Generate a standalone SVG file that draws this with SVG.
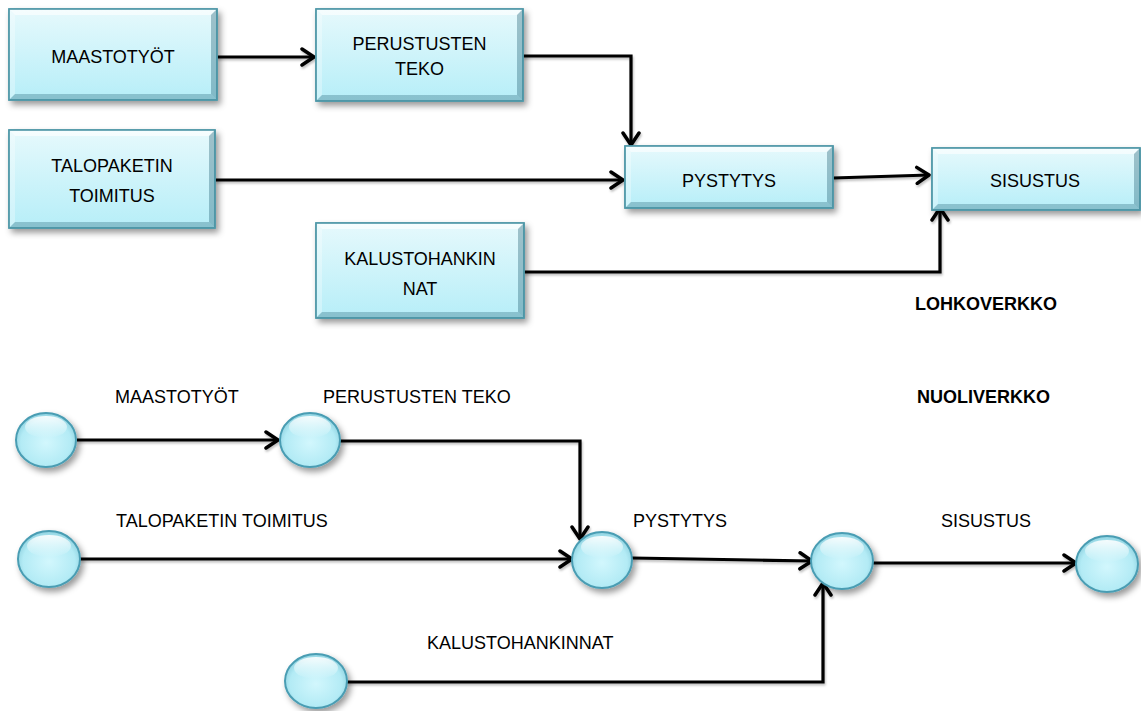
<svg xmlns="http://www.w3.org/2000/svg" width="1141" height="711" viewBox="0 0 1141 711">
<defs>
<linearGradient id="face" x1="0" y1="0" x2="0" y2="1">
<stop offset="0" stop-color="#e6f9fc"/>
<stop offset="1" stop-color="#b6eef8"/>
</linearGradient>
<radialGradient id="ball" cx="0.5" cy="0.55" r="0.6">
<stop offset="0" stop-color="#d2f7fd"/>
<stop offset="0.7" stop-color="#b3ebf5"/>
<stop offset="1" stop-color="#7ec6d6"/>
</radialGradient>
<linearGradient id="gloss" x1="0" y1="0" x2="0" y2="1">
<stop offset="0" stop-color="#ffffff" stop-opacity="0.9"/>
<stop offset="1" stop-color="#ffffff" stop-opacity="0"/>
</linearGradient>
<filter id="sh" x="-20%" y="-20%" width="140%" height="150%">
<feDropShadow dx="3" dy="4" stdDeviation="3" flood-color="#000" flood-opacity="0.4"/>
</filter>
<filter id="lsh" x="-5%" y="-50%" width="110%" height="200%">
<feDropShadow dx="1" dy="2" stdDeviation="1.2" flood-color="#000" flood-opacity="0.25"/>
</filter>
<marker id="arr" markerUnits="userSpaceOnUse" markerWidth="18" markerHeight="20" viewBox="0 0 18 20" refX="15" refY="10" orient="auto">
<path d="M3,2 L15,10 L3,18" fill="none" stroke="#000" stroke-width="3.5" stroke-linecap="round" stroke-linejoin="round"/>
</marker>
<style>
.face{fill:url(#face);stroke:#4f98a8;stroke-width:1.5}
.edge{fill:none;stroke:#4f98a8;stroke-width:1.5}
.bt{fill:#ffffff;fill-opacity:0.6}
.bl{fill:#ffffff;fill-opacity:0.3}
.br{fill:#1e5a6e;fill-opacity:0.35}
.bb{fill:#1e5a6e;fill-opacity:0.3}
.ball{fill:url(#ball);stroke:#4a9db3;stroke-width:2}
.hl{fill:url(#gloss)}
.t{font-family:"Liberation Sans",Arial,sans-serif;font-size:18px;fill:#000}
.c{text-anchor:middle}
.b{font-weight:bold}
.ln{fill:none;stroke:#000;stroke-width:3.2;stroke-linejoin:miter}
</style>
</defs>
<rect width="1141" height="711" fill="#ffffff"/>

<g id="connectors" filter="url(#lsh)">
<path class="ln" d="M217,57 L314,57" marker-end="url(#arr)"/>
<path class="ln" d="M523,56 L631,56 L631,145" marker-end="url(#arr)"/>
<path class="ln" d="M215,180 L623,180" marker-end="url(#arr)"/>
<path class="ln" d="M833,178 L929,175" marker-end="url(#arr)"/>
<path class="ln" d="M524,272 L940,272 L940,208" marker-end="url(#arr)"/>
<path class="ln" d="M77,440 L278,440" marker-end="url(#arr)"/>
<path class="ln" d="M340,441 L580,441 L580,539" marker-end="url(#arr)"/>
<path class="ln" d="M80,559 L572,559" marker-end="url(#arr)"/>
<path class="ln" d="M632,558 L812,561" marker-end="url(#arr)"/>
<path class="ln" d="M873,563 L1076,563" marker-end="url(#arr)"/>
<path class="ln" d="M347,682 L823,682 L823,583" marker-end="url(#arr)"/>
</g>

<g id="box-maastotyot">
<rect class="face" x="9" y="9" width="208" height="91" filter="url(#sh)"/>
<polygon class="bt" points="9,9 217,9 211,15 15,15"/>
<polygon class="bl" points="9,9 15,15 15,94 9,100"/>
<polygon class="br" points="217,9 217,100 211,94 211,15"/>
<polygon class="bb" points="9,100 15,94 211,94 217,100"/>
<rect class="edge" x="9" y="9" width="208" height="91"/>
<text class="t c" x="113" y="63">MAASTOTYÖT</text>
</g>

<g id="box-perustusten">
<rect class="face" x="316" y="9" width="207" height="92" filter="url(#sh)"/>
<polygon class="bt" points="316,9 523,9 517,15 322,15"/>
<polygon class="bl" points="316,9 322,15 322,95 316,101"/>
<polygon class="br" points="523,9 523,101 517,95 517,15"/>
<polygon class="bb" points="316,101 322,95 517,95 523,101"/>
<rect class="edge" x="316" y="9" width="207" height="92"/>
<text class="t c" x="419.5" y="50">PERUSTUSTEN</text>
<text class="t c" x="419.5" y="75">TEKO</text>
</g>

<g id="box-talopaketin">
<rect class="face" x="9" y="130" width="206" height="98" filter="url(#sh)"/>
<polygon class="bt" points="9,130 215,130 209,136 15,136"/>
<polygon class="bl" points="9,130 15,136 15,222 9,228"/>
<polygon class="br" points="215,130 215,228 209,222 209,136"/>
<polygon class="bb" points="9,228 15,222 209,222 215,228"/>
<rect class="edge" x="9" y="130" width="206" height="98"/>
<text class="t c" x="112" y="172">TALOPAKETIN</text>
<text class="t c" x="112" y="202">TOIMITUS</text>
</g>

<g id="box-pystytys">
<rect class="face" x="625" y="146" width="208" height="62" filter="url(#sh)"/>
<polygon class="bt" points="625,146 833,146 827,152 631,152"/>
<polygon class="bl" points="625,146 631,152 631,202 625,208"/>
<polygon class="br" points="833,146 833,208 827,202 827,152"/>
<polygon class="bb" points="625,208 631,202 827,202 833,208"/>
<rect class="edge" x="625" y="146" width="208" height="62"/>
<text class="t c" x="729" y="187">PYSTYTYS</text>
</g>

<g id="box-sisustus">
<rect class="face" x="932" y="148" width="208" height="62" filter="url(#sh)"/>
<polygon class="bt" points="932,148 1140,148 1134,154 938,154"/>
<polygon class="bl" points="932,148 938,154 938,204 932,210"/>
<polygon class="br" points="1140,148 1140,210 1134,204 1134,154"/>
<polygon class="bb" points="932,210 938,204 1134,204 1140,210"/>
<rect class="edge" x="932" y="148" width="208" height="62"/>
<text class="t c" x="1035" y="187">SISUSTUS</text>
</g>

<g id="box-kalusto">
<rect class="face" x="316" y="223" width="208" height="95" filter="url(#sh)"/>
<polygon class="bt" points="316,223 524,223 518,229 322,229"/>
<polygon class="bl" points="316,223 322,229 322,312 316,318"/>
<polygon class="br" points="524,223 524,318 518,312 518,229"/>
<polygon class="bb" points="316,318 322,312 518,312 524,318"/>
<rect class="edge" x="316" y="223" width="208" height="95"/>
<text class="t c" x="420" y="265">KALUSTOHANKIN</text>
<text class="t c" x="420" y="295">NAT</text>
</g>

<g id="title-lohkoverkko"><text class="t b" x="915" y="310">LOHKOVERKKO</text></g>
<g id="title-nuoliverkko"><text class="t b" x="917" y="403">NUOLIVERKKO</text></g>

<g id="n1"><ellipse class="ball" cx="46" cy="440" rx="30" ry="27" filter="url(#sh)"/><ellipse class="hl" cx="46" cy="427" rx="21" ry="11"/></g>
<g id="n2"><ellipse class="ball" cx="310" cy="440" rx="30" ry="27" filter="url(#sh)"/><ellipse class="hl" cx="310" cy="427" rx="21" ry="11"/></g>
<g id="n3"><ellipse class="ball" cx="49" cy="559" rx="31" ry="28" filter="url(#sh)"/><ellipse class="hl" cx="49" cy="546" rx="22" ry="11"/></g>
<g id="n4"><ellipse class="ball" cx="602" cy="560" rx="30" ry="28" filter="url(#sh)"/><ellipse class="hl" cx="602" cy="547" rx="21" ry="11"/></g>
<g id="n5"><ellipse class="ball" cx="842" cy="561" rx="31" ry="28" filter="url(#sh)"/><ellipse class="hl" cx="842" cy="548" rx="22" ry="11"/></g>
<g id="n6"><ellipse class="ball" cx="1107" cy="564" rx="31" ry="28" filter="url(#sh)"/><ellipse class="hl" cx="1107" cy="551" rx="22" ry="11"/></g>
<g id="n7"><ellipse class="ball" cx="316" cy="681" rx="31" ry="27" filter="url(#sh)"/><ellipse class="hl" cx="316" cy="668" rx="22" ry="11"/></g>

<g id="labels">
<text class="t" x="115" y="403">MAASTOTYÖT</text>
<text class="t" x="323" y="403">PERUSTUSTEN TEKO</text>
<text class="t" x="116" y="527">TALOPAKETIN TOIMITUS</text>
<text class="t" x="633" y="527">PYSTYTYS</text>
<text class="t" x="941" y="527">SISUSTUS</text>
<text class="t" x="427" y="649">KALUSTOHANKINNAT</text>
</g>
</svg>
